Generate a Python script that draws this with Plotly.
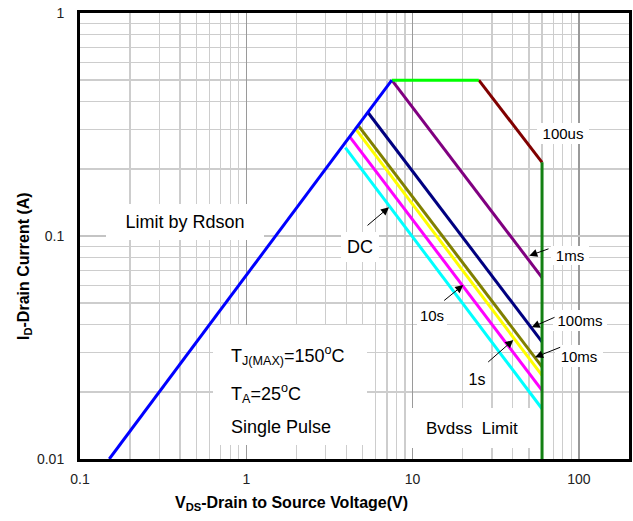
import plotly.graph_objects as go

# ---------------- data ----------------
rdson_v = [0.15, 7.5]
rdson_i = [0.01, 0.5]
peak_v = [7.5, 25]
peak_i = [0.5, 0.5]
us100_v = [25, 60]
us100_i = [0.5, 0.214]
ms1_v = [7.5, 60]
ms1_i = [0.5, 0.0651]
ms100_v = [5.39, 60]
ms100_i = [0.358, 0.0335]
ms10_v = [4.69, 60]
ms10_i = [0.314, 0.0259]
s1_v = [4.54, 60]
s1_i = [0.302, 0.0237]
s10_v = [4.18, 60]
s10_i = [0.279, 0.0203]
dc_v = [3.94, 60]
dc_i = [0.249, 0.0168]
bvdss_v = [60, 60]
bvdss_i = [0.214, 0.01]

x_tickvals = [0.1, 1, 10, 100]
x_ticktext = ["0.1", "1", "10", "100"]
y_tickvals = [0.01, 0.1, 1]
y_ticktext = ["0.01", "0.1", "1"]

# ---------------- layout geometry ----------------
W, H = 633, 521
L, R, T, B = 80, 4, 13, 62
PW = W - L - R
PH = H - T - B
FONT = "Liberation Sans, Arial, sans-serif"


def P(px, py):
    """page pixel -> paper fraction"""
    return (px - L) / PW, (H - B - py) / PH


fig = go.Figure()

series = [
    (dc_v, dc_i, "#00ffff"),
    (s10_v, s10_i, "#ff00ff"),
    (s1_v, s1_i, "#ffff00"),
    (ms10_v, ms10_i, "#808000"),
    (ms100_v, ms100_i, "#000080"),
    (ms1_v, ms1_i, "#800080"),
    (us100_v, us100_i, "#800000"),
    (peak_v, peak_i, "#00ff00"),
    (bvdss_v, bvdss_i, "#138013"),
    (rdson_v, rdson_i, "#0000ff"),
]
for xv, yv, col in series:
    fig.add_trace(go.Scatter(x=xv, y=yv, mode="lines",
                             line=dict(color=col, width=3),
                             showlegend=False, hoverinfo="skip"))

# white box behind the condition text block
a, b = P(290, 385)
fig.add_annotation(x=a, y=b, xref="paper", yref="paper", text=" ",
                   showarrow=False, xanchor="center", yanchor="middle",
                   width=154, height=120, borderpad=0, borderwidth=0,
                   bgcolor="white", font=dict(size=4))

# labels with white boxes: text, cx, cy, font size, box w, box h
labels = [
    ("Limit by Rdson", 185, 222, 18, 158, 36),
    ("DC", 360, 246.5, 18, 38, 30),
    ("100us", 563, 133, 15, 52, 21),
    ("1ms", 570, 255, 15, 38, 19),
    ("100ms", 580, 320, 15, 54, 21),
    ("10ms", 579, 356, 15, 48, 22),
    ("10s", 431.5, 315, 15, 30, 22),
    ("1s", 476.7, 379, 16, 28, 24),
    ("Bvdss\u00a0 Limit", 471.7, 428, 17, 122, 40),
]
for txt, px, py, fs, bw, bh in labels:
    a, b = P(px, py)
    fig.add_annotation(x=a, y=b, xref="paper", yref="paper", text=txt,
                       showarrow=False, xanchor="center", yanchor="middle",
                       width=bw, height=bh, borderpad=0, borderwidth=0,
                       bgcolor="white",
                       font=dict(family=FONT, size=fs, color="black"))

block = [
    ("T<sub>J(MAX)</sub>=150<sup>o</sup>C", 355),
    ("T<sub>A</sub>=25<sup>o</sup>C", 393),
    ("Single Pulse", 427),
]
for txt, py in block:
    a, b = P(229, py)
    fig.add_annotation(x=a, y=b, xref="paper", yref="paper", text=txt,
                       showarrow=False, xanchor="left", yanchor="middle",
                       font=dict(family=FONT, size=18, color="black"))

# arrows: tail (page px) -> tip (page px)
arrows = [
    ((366, 226.7), (389, 207.3)),
    ((550, 248.3), (529.3, 255.7)),
    ((556, 316.7), (531.7, 327.3)),
    ((561.7, 346.7), (535, 357.3)),
    ((486.7, 363.3), (513.3, 340)),
    ((442.7, 301.7), (463.3, 285)),
]
for (tx, ty), (hx, hy) in arrows:
    a, b = P(hx, hy)
    fig.add_annotation(x=a, y=b, xref="paper", yref="paper", text="",
                       showarrow=True, ax=tx - hx, ay=ty - hy,
                       arrowhead=2, arrowsize=1.6, arrowwidth=1,
                       arrowcolor="black", standoff=0, startstandoff=0)

# axis titles
a, b = P(291, 503)
fig.add_annotation(x=a, y=b, xref="paper", yref="paper",
                   text="<b>V<sub>DS</sub>-Drain to Source Voltage(V)</b>",
                   showarrow=False, xanchor="center", yanchor="middle",
                   font=dict(family=FONT, size=16, color="black"))
a, b = P(24, 266)
fig.add_annotation(x=a, y=b, xref="paper", yref="paper",
                   text="<b>I<sub>D</sub>-Drain Current (A)</b>", textangle=-90,
                   showarrow=False, xanchor="center", yanchor="middle",
                   font=dict(family=FONT, size=16, color="black"))

x_minor = [m * 10 ** e for e in range(-1, 3) for m in range(2, 10)]
y_minor = [m * 10 ** e for e in range(-2, 0) for m in range(2, 10)]

fig.update_layout(
    width=W, height=H,
    margin=dict(l=L, r=R, t=T, b=B),
    paper_bgcolor="white", plot_bgcolor="white",
    showlegend=False,
    hovermode=False,
    font=dict(family=FONT, size=14, color="#222"),
    xaxis=dict(type="log", range=[-1, 2.30103],
               tickmode="array", tickvals=x_tickvals, ticktext=x_ticktext,
               showline=True, linecolor="black", linewidth=3, mirror=True,
               ticks="", ticklabelstandoff=5, automargin=False,
               showgrid=True, gridcolor="#9a9a9a", gridwidth=1.3,
               minor=dict(tickmode="array", tickvals=x_minor, showgrid=True,
                          gridcolor="#cdcdcd", gridwidth=1.3, ticks=""),
               zeroline=False),
    yaxis=dict(type="log", range=[-2, 0],
               tickmode="array", tickvals=y_tickvals, ticktext=y_ticktext,
               showline=True, linecolor="black", linewidth=3, mirror=True,
               ticks="", ticklabelstandoff=10, automargin=False,
               showgrid=True, gridcolor="#c4c4c4", gridwidth=1.3,
               minor=dict(tickmode="array", tickvals=y_minor, showgrid=True,
                          gridcolor="#cdcdcd", gridwidth=1.3, ticks=""),
               zeroline=False),
)

fig.write_html("out.html",
               config={"displayModeBar": False, "staticPlot": True},
               post_script="document.body.style.margin='0';")
